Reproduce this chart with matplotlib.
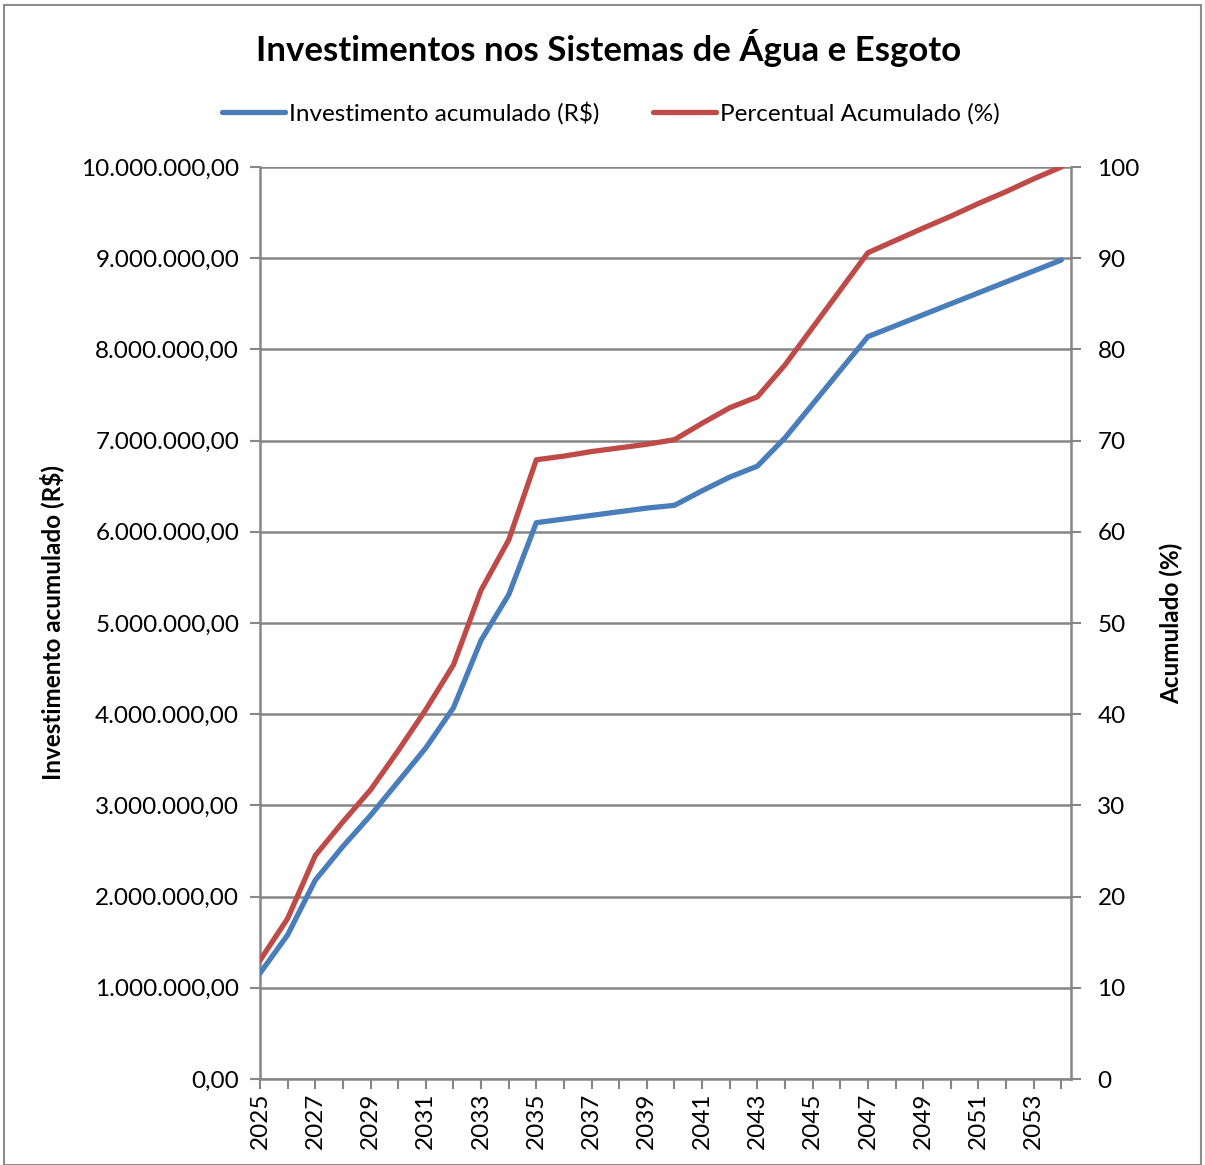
import matplotlib.pyplot as plt
from matplotlib.patches import Rectangle
from matplotlib.ticker import FuncFormatter, MultipleLocator

YEARS = list(range(2025, 2055))
INVESTIMENTO = [1.16, 1.58, 2.18, 2.55, 2.89, 3.26, 3.63, 4.07, 4.81, 5.31,
                6.10, 6.14, 6.18, 6.22, 6.26, 6.29, 6.45, 6.60, 6.72, 7.03,
                7.40, 7.77, 8.14, 8.26, 8.38, 8.50, 8.62, 8.74, 8.86, 8.98]
INVESTIMENTO = [v * 1e6 for v in INVESTIMENTO]
PERCENTUAL = [13.0, 17.6, 24.5, 28.2, 31.7, 36.0, 40.5, 45.4, 53.6, 59.1,
              67.9, 68.3, 68.8, 69.2, 69.6, 70.1, 71.9, 73.6, 74.8, 78.3,
              82.4, 86.5, 90.6, 91.95, 93.3, 94.6, 96.0, 97.3, 98.7, 100.0]
XTICK_YEARS = list(range(2025, 2054, 2))

BLUE = '#4a7ebb'
RED = '#be4b48'
GRID = '#868686'

plt.rcParams['font.family'] = ['Lato', 'DejaVu Sans']

fig = plt.figure(figsize=(12.05, 11.65), dpi=100)
fig.patches.append(Rectangle((0.003, 0.0), 0.994, 0.996, transform=fig.transFigure,
                             fill=False, edgecolor='#8c8c8c', linewidth=1.5))
W, H = 1205, 1165
ax = fig.add_axes([260 / W, 1 - 1079 / H, (1071 - 260) / W, (1079 - 167) / H])
ax2 = ax.twinx()

l1, = ax.plot(YEARS, INVESTIMENTO, color=BLUE, linewidth=3.8, solid_capstyle='round',
              label='Investimento acumulado (R$)', zorder=3)
l2, = ax2.plot(YEARS, PERCENTUAL, color=RED, linewidth=3.8, solid_capstyle='round',
               label='Percentual Acumulado (%)', zorder=3)

ax.set_xlim(2025, 2054.35)
ax.set_ylim(0, 1e7)
ax2.set_ylim(0, 100)
ax.yaxis.set_major_locator(MultipleLocator(1e6))
ax2.yaxis.set_major_locator(MultipleLocator(10))
ax.yaxis.set_major_formatter(FuncFormatter(
    lambda v, p: f'{v:,.2f}'.replace(',', 'X').replace('.', ',').replace('X', '.')))
ax.set_xticks(XTICK_YEARS)
ax.set_xticks(YEARS, minor=True)
ax.set_xticklabels([str(y) for y in XTICK_YEARS], rotation=90)

ax.grid(axis='y', color=GRID, linewidth=1.8)
ax.set_axisbelow(True)
for a in (ax, ax2):
    for s in a.spines.values():
        s.set_visible(False)
    a.spines['left'].set_visible(a is ax)
    a.spines['right'].set_visible(a is ax2)
    a.spines['left'].set_color(GRID)
    a.spines['right'].set_color(GRID)
    a.spines['left'].set_linewidth(1.8)
    a.spines['right'].set_linewidth(1.8)
ax.spines['bottom'].set_visible(True)
ax.spines['bottom'].set_color(GRID)
ax.spines['bottom'].set_linewidth(1.8)

ax.tick_params(axis='y', labelsize=17.5, length=7, width=1.5, color=GRID, pad=8)
ax.tick_params(axis='x', which='both', labelsize=17.5, length=7, width=1.5, color=GRID, pad=3)
ax2.tick_params(axis='y', labelsize=17.5, length=7, width=1.5, color=GRID, pad=12)

ax.set_ylabel('Investimento acumulado (R$)', fontsize=17.5, fontweight='bold', labelpad=12)
ax2.set_ylabel('Acumulado (%)', fontsize=17.5, fontweight='bold', labelpad=14)

fig.text(0.505, 1 - 48 / H, 'Investimentos nos Sistemas de Água e Esgoto',
         ha='center', va='center', fontsize=25, fontweight='bold')
fig.legend(handles=[l1, l2], loc='center', bbox_to_anchor=(0.507, 1 - 113 / H),
           ncol=2, frameon=False, fontsize=17.5, handlelength=2.6, handletextpad=0.15,
           columnspacing=2.2)

fig.savefig('out.png', dpi=100)
